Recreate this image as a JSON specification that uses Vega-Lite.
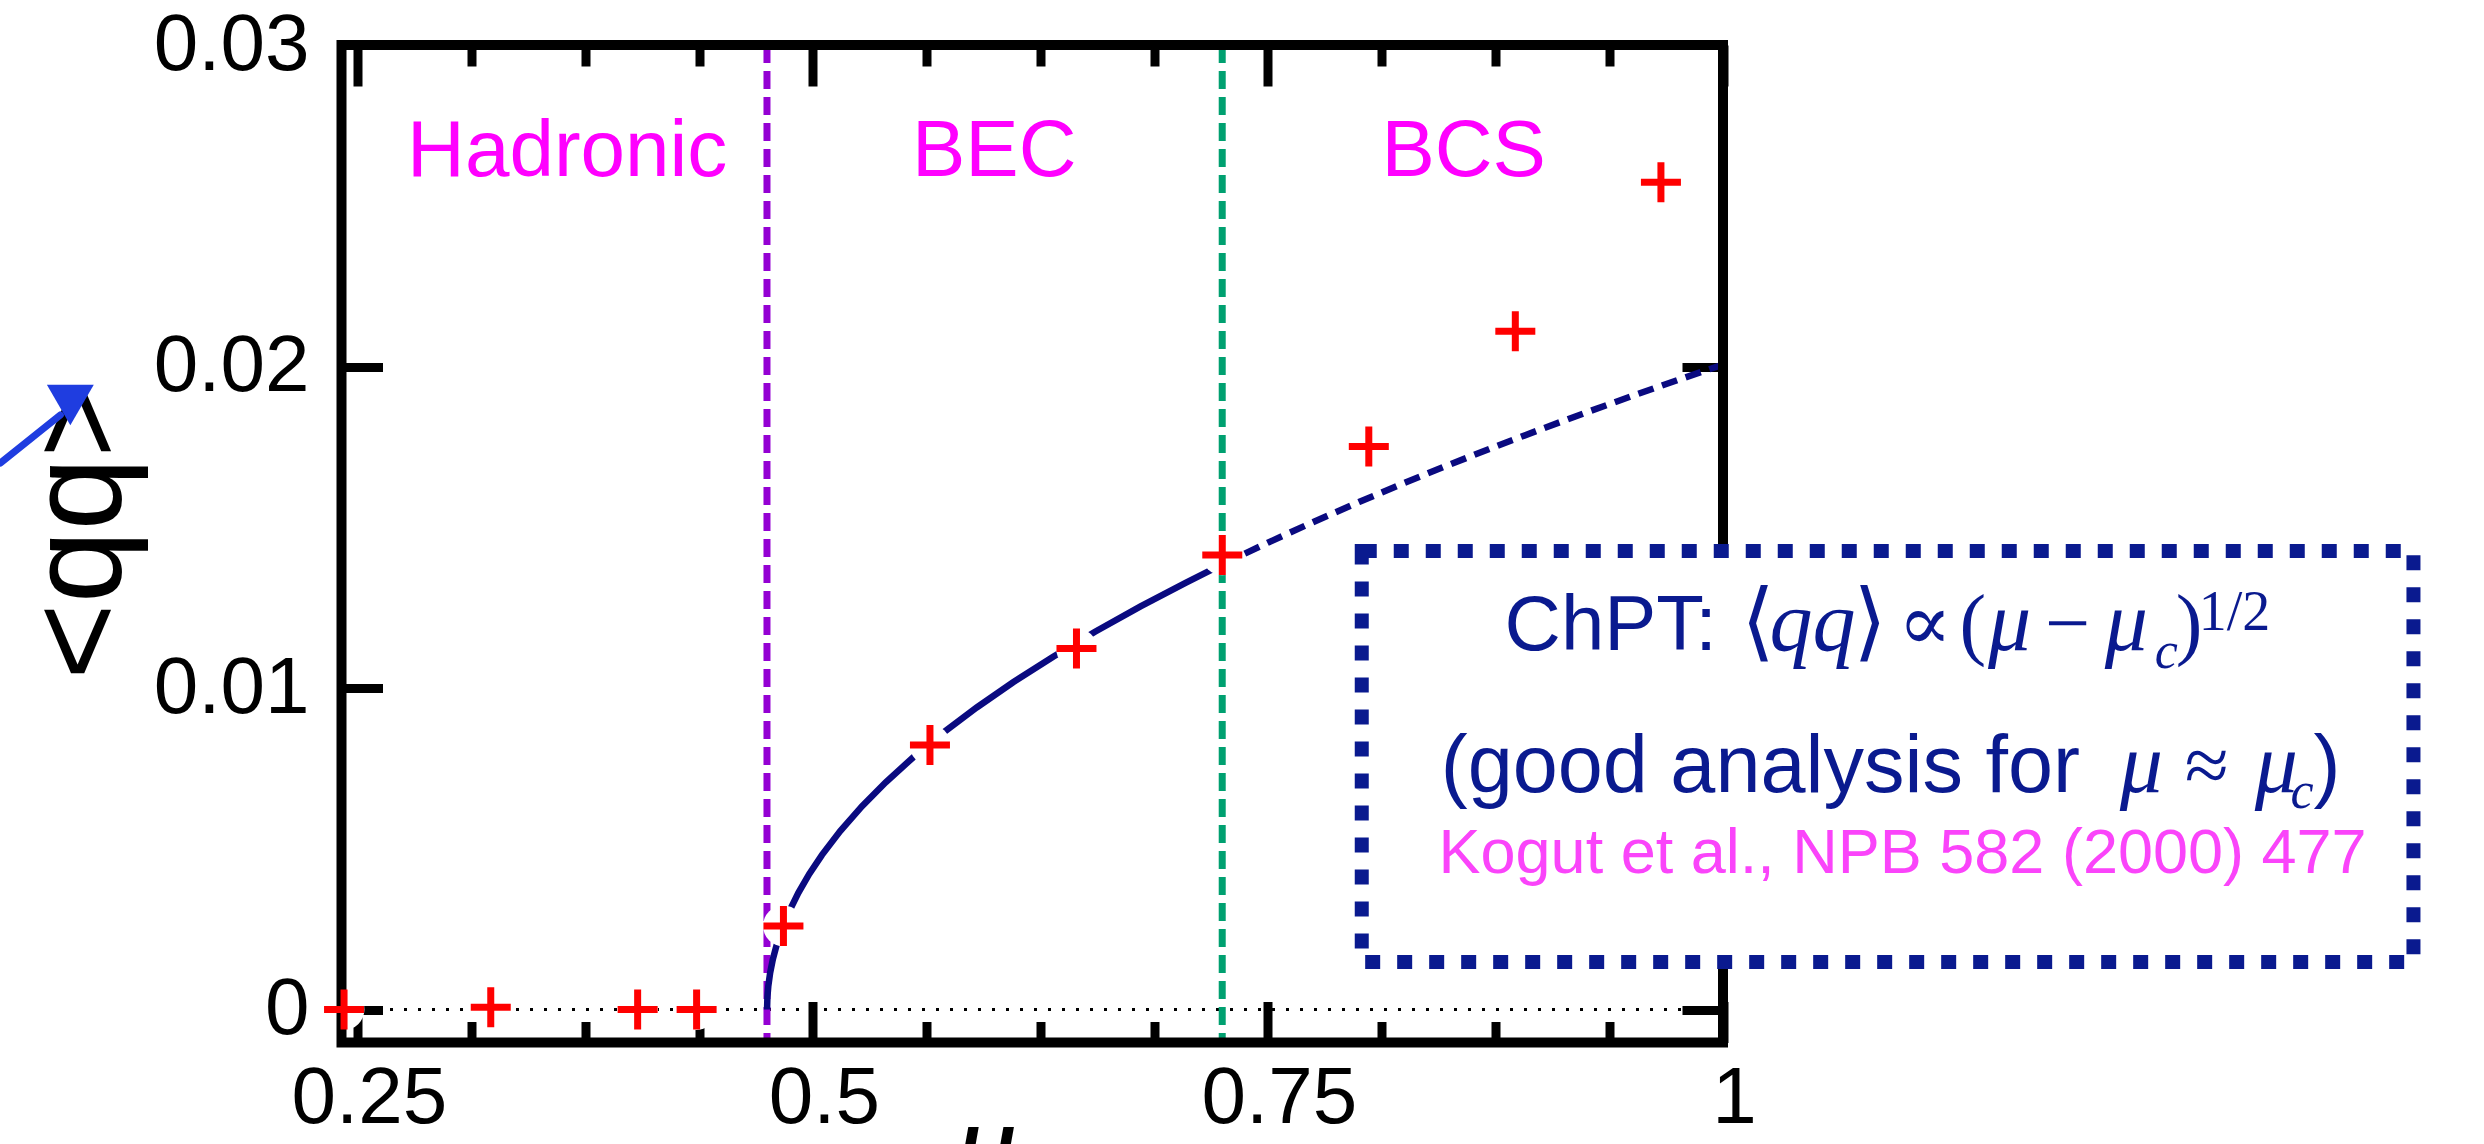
{
  "$schema": "https://vega.github.io/schema/vega-lite/v6.json",
  "width": 1381.5,
  "height": 997.5,
  "autosize": {"type": "none"},
  "padding": {"left": 341.5, "top": 45, "right": 761, "bottom": 101.5},
  "config": {
    "view": {"stroke": null},
    "axis": {
      "grid": false,
      "domain": false,
      "tickColor": "black",
      "tickWidth": 9,
      "labelFont": "Liberation Sans",
      "labelFontSize": 80,
      "labelColor": "black",
      "labelFlush": false,
      "labelOverlap": false
    }
  },
  "datasets": {
    "lattice": [
      {"mu": 0.2424, "qq": 0}, {"mu": 0.3230, "qq": 0.00007}, {"mu": 0.4037, "qq": 0},
      {"mu": 0.4361, "qq": 0}, {"mu": 0.4838, "qq": 0.00260}, {"mu": 0.5643, "qq": 0.00823},
      {"mu": 0.6448, "qq": 0.01123}, {"mu": 0.7249, "qq": 0.01414}, {"mu": 0.8054, "qq": 0.01751},
      {"mu": 0.8859, "qq": 0.02110}, {"mu": 0.9659, "qq": 0.02573}
    ]
  },
  "resolve": {"axis": {"x": "independent", "y": "independent"}},
  "layer": [
    {
      "data": {"values": [{"qq": 0}]},
      "mark": {"type": "rule", "color": "black", "strokeWidth": 3, "strokeDash": [3, 11]},
      "encoding": {
        "y": {"field": "qq", "type": "quantitative", "axis": null, "scale": {"domain": [-0.001026, 0.03], "nice": false, "zero": false}}
      }
    },
    {
      "data": {"values": [{"mu": 0.47476}]},
      "mark": {"type": "rule", "color": "#9400d3", "strokeWidth": 7, "strokeDash": [18, 8]},
      "encoding": {
        "x": {"field": "mu", "type": "quantitative", "axis": null, "scale": {"domain": [0.241, 1.0], "nice": false, "zero": false}}
      }
    },
    {
      "data": {"values": [{"mu": 0.72487}]},
      "mark": {"type": "rule", "color": "#00a070", "strokeWidth": 7, "strokeDash": [18, 8]},
      "encoding": {
        "x": {"field": "mu", "type": "quantitative", "axis": null, "scale": {"domain": [0.241, 1.0], "nice": false, "zero": false}}
      }
    },
    {
      "data": {"values": [
        {"mu": 0.4748, "qq": 0}, {"mu": 0.4750, "qq": 0.000391}, {"mu": 0.4755, "qq": 0.000732},
        {"mu": 0.4765, "qq": 0.001141}, {"mu": 0.478, "qq": 0.001566}, {"mu": 0.480, "qq": 0.001996},
        {"mu": 0.483, "qq": 0.002507}, {"mu": 0.487, "qq": 0.003057}, {"mu": 0.492, "qq": 0.003630},
        {"mu": 0.498, "qq": 0.004216}, {"mu": 0.505, "qq": 0.004810}, {"mu": 0.515, "qq": 0.005550},
        {"mu": 0.527, "qq": 0.006324}, {"mu": 0.540, "qq": 0.007068}, {"mu": 0.555, "qq": 0.007839},
        {"mu": 0.572, "qq": 0.008630}, {"mu": 0.590, "qq": 0.009395}, {"mu": 0.610, "qq": 0.010178},
        {"mu": 0.632, "qq": 0.010975}, {"mu": 0.655, "qq": 0.011750}, {"mu": 0.680, "qq": 0.012539},
        {"mu": 0.705, "qq": 0.013281}, {"mu": 0.7249, "qq": 0.013843}
      ]},
      "mark": {"type": "line", "color": "#0a0a80", "strokeWidth": 6.5},
      "encoding": {
        "x": {"field": "mu", "type": "quantitative", "scale": {"domain": [0.241, 1.0], "nice": false, "zero": false},
              "axis": {"orient": "top", "values": [0.25, 0.5, 0.75, 1.0], "labels": false, "tickSize": -41, "title": null}},
        "y": {"field": "qq", "type": "quantitative", "axis": null, "scale": {"domain": [-0.001026, 0.03], "nice": false, "zero": false}}
      }
    },
    {
      "data": {"values": [
        {"mu": 0.7249, "qq": 0.013843}, {"mu": 0.75, "qq": 0.014521}, {"mu": 0.775, "qq": 0.015166},
        {"mu": 0.80, "qq": 0.015785}, {"mu": 0.825, "qq": 0.016380}, {"mu": 0.85, "qq": 0.016955},
        {"mu": 0.875, "qq": 0.017511}, {"mu": 0.90, "qq": 0.018049}, {"mu": 0.925, "qq": 0.018572},
        {"mu": 0.95, "qq": 0.019081}, {"mu": 0.975, "qq": 0.019577}, {"mu": 1.0, "qq": 0.020060}
      ]},
      "mark": {"type": "line", "color": "#0a0a80", "strokeWidth": 6.5, "strokeDash": [16, 9]},
      "encoding": {
        "x": {"field": "mu", "type": "quantitative", "scale": {"domain": [0.241, 1.0], "nice": false, "zero": false},
              "axis": {"orient": "top", "values": [0.3125, 0.375, 0.4375, 0.5625, 0.625, 0.6875, 0.8125, 0.875, 0.9375], "labels": false, "tickSize": -21, "title": null}},
        "y": {"field": "qq", "type": "quantitative", "axis": null, "scale": {"domain": [-0.001026, 0.03], "nice": false, "zero": false}}
      }
    },
    {
      "data": {"name": "lattice"},
      "mark": {"type": "point", "shape": "circle", "filled": true, "color": "white", "opacity": 1, "size": 1662},
      "encoding": {
        "x": {"field": "mu", "type": "quantitative", "scale": {"domain": [0.241, 1.0], "nice": false, "zero": false},
              "axis": {"orient": "bottom", "values": [0.3125, 0.375, 0.4375, 0.5625, 0.625, 0.6875, 0.8125, 0.875, 0.9375], "labels": false, "tickSize": -21, "title": null}},
        "y": {"field": "qq", "type": "quantitative", "scale": {"domain": [-0.001026, 0.03], "nice": false, "zero": false},
              "axis": {"orient": "right", "values": [0, 0.01, 0.02, 0.03], "labels": false, "tickSize": -41, "title": null}}
      }
    },
    {
      "data": {"values": [{"mu": 0.241, "mu2": 1.0, "qq": -0.001026, "qq2": 0.03}]},
      "mark": {"type": "rect", "fill": "white", "fillOpacity": 0, "stroke": "black", "strokeWidth": 10},
      "encoding": {
        "x": {"field": "mu", "type": "quantitative", "axis": null, "scale": {"domain": [0.241, 1.0], "nice": false, "zero": false}},
        "x2": {"field": "mu2"},
        "y": {"field": "qq", "type": "quantitative", "axis": null, "scale": {"domain": [-0.001026, 0.03], "nice": false, "zero": false}},
        "y2": {"field": "qq2"}
      }
    },
    {
      "data": {"name": "lattice"},
      "mark": {"type": "point", "shape": "M-1,0H1M0,-1V1", "filled": false, "color": "#ff0000", "strokeWidth": 7, "opacity": 1, "size": 1600},
      "encoding": {
        "x": {"field": "mu", "type": "quantitative", "scale": {"domain": [0.241, 1.0], "nice": false, "zero": false},
              "axis": {"orient": "bottom", "values": [0.25, 0.5, 0.75, 1.0], "format": ".2~f", "tickSize": -41, "labelPadding": 57.5, "labelOffset": 11,
                       "title": "μ", "titleFont": "Liberation Serif", "titleFontStyle": "italic", "titleFontWeight": "normal", "titleFontSize": 130,
                       "titleColor": "black", "titleX": 643.5, "titleY": 142.5, "titleAlign": "center", "titleBaseline": "alphabetic"}},
        "y": {"field": "qq", "type": "quantitative", "scale": {"domain": [-0.001026, 0.03], "nice": false, "zero": false},
              "axis": {"orient": "left", "values": [0, 0.01, 0.02, 0.03], "format": ".2~f", "tickSize": -41, "labelPadding": 73.5,
                       "title": "<qq>", "titleFont": "Liberation Sans", "titleFontWeight": "normal", "titleFontSize": 131, "titleColor": "black",
                       "titleAngle": 270, "titleX": -221.5, "titleY": 485, "titleAlign": "center", "titleBaseline": "alphabetic"}}
      }
    },
    {
      "data": {"values": [
        {"mu": 0.3650, "qq": 0.02594, "phase": "Hadronic"},
        {"mu": 0.5996, "qq": 0.02594, "phase": "BEC"},
        {"mu": 0.8575, "qq": 0.02594, "phase": "BCS"}
      ]},
      "mark": {"type": "text", "font": "Liberation Sans", "fontSize": 80, "color": "#ff00ff", "align": "center", "baseline": "alphabetic"},
      "encoding": {
        "x": {"field": "mu", "type": "quantitative", "axis": null, "scale": {"domain": [0.241, 1.0], "nice": false, "zero": false}},
        "y": {"field": "qq", "type": "quantitative", "axis": null, "scale": {"domain": [-0.001026, 0.03], "nice": false, "zero": false}},
        "text": {"field": "phase"}
      }
    },
    {
      "data": {"values": [{"mu": 0.80153, "mu2": 1.37934, "qq": 0.014261, "qq2": 0.001477}]},
      "mark": {"type": "rect", "fill": "white", "stroke": "#0a1a8f", "strokeWidth": 14, "strokeDash": [15, 17]},
      "encoding": {
        "x": {"field": "mu", "type": "quantitative", "axis": null, "scale": {"domain": [0.241, 1.0], "nice": false, "zero": false}},
        "x2": {"field": "mu2"},
        "y": {"field": "qq", "type": "quantitative", "axis": null, "scale": {"domain": [-0.001026, 0.03], "nice": false, "zero": false}},
        "y2": {"field": "qq2"}
      }
    },
    {
      "data": {"values": [{"mu": 0.87999, "qq": 0.011182, "t": "ChPT:"}]},
      "mark": {"type": "text", "font": "Liberation Sans", "fontSize": 78, "color": "#0a1a8f", "align": "left", "baseline": "alphabetic"},
      "encoding": {
        "x": {"field": "mu", "type": "quantitative", "axis": null, "scale": {"domain": [0.241, 1.0], "nice": false, "zero": false}},
        "y": {"field": "qq", "type": "quantitative", "axis": null, "scale": {"domain": [-0.001026, 0.03], "nice": false, "zero": false}},
        "text": {"field": "t"}
      }
    },
    {
      "data": {"values": [
        {"mu": 0.84488, "qq": 0.006765, "t": "(good analysis for"},
        {"mu": 1.32446, "qq": 0.006765, "t": ")"}
      ]},
      "mark": {"type": "text", "font": "Liberation Sans", "fontSize": 81, "color": "#0a1a8f", "align": "left", "baseline": "alphabetic"},
      "encoding": {
        "x": {"field": "mu", "type": "quantitative", "axis": null, "scale": {"domain": [0.241, 1.0], "nice": false, "zero": false}},
        "y": {"field": "qq", "type": "quantitative", "axis": null, "scale": {"domain": [-0.001026, 0.03], "nice": false, "zero": false}},
        "text": {"field": "t"}
      }
    },
    {
      "data": {"values": [
        {"mu": 1.0255, "qq": 0.011182, "t": "qq"},
        {"mu": 1.1456, "qq": 0.011182, "t": "μ"},
        {"mu": 1.2098, "qq": 0.011182, "t": "μ"},
        {"mu": 1.21801, "qq": 0.006765, "t": "μ"},
        {"mu": 1.29209, "qq": 0.006765, "t": "μ"}
      ]},
      "mark": {"type": "text", "font": "Liberation Serif", "fontStyle": "italic", "fontSize": 86, "color": "#0a1a8f", "align": "left", "baseline": "alphabetic"},
      "encoding": {
        "x": {"field": "mu", "type": "quantitative", "axis": null, "scale": {"domain": [0.241, 1.0], "nice": false, "zero": false}},
        "y": {"field": "qq", "type": "quantitative", "axis": null, "scale": {"domain": [-0.001026, 0.03], "nice": false, "zero": false}},
        "text": {"field": "t"}
      }
    },
    {
      "data": {"values": [
        {"mu": 1.0100, "qq": 0.011182, "t": "⟨"},
        {"mu": 1.0715, "qq": 0.011182, "t": "⟩"}
      ]},
      "mark": {"type": "text", "font": "DejaVu Serif", "fontSize": 86, "color": "#0a1a8f", "align": "left", "baseline": "alphabetic"},
      "encoding": {
        "x": {"field": "mu", "type": "quantitative", "axis": null, "scale": {"domain": [0.241, 1.0], "nice": false, "zero": false}},
        "y": {"field": "qq", "type": "quantitative", "axis": null, "scale": {"domain": [-0.001026, 0.03], "nice": false, "zero": false}},
        "text": {"field": "t"}
      }
    },
    {
      "data": {"values": [
        {"mu": 1.0960, "qq": 0.011182, "t": "∝"},
        {"mu": 1.1300, "qq": 0.011182, "t": "("},
        {"mu": 1.1769, "qq": 0.011182, "t": "−"},
        {"mu": 1.24874, "qq": 0.011182, "t": ")"},
        {"mu": 1.25368, "qq": 0.006765, "t": "≈"}
      ]},
      "mark": {"type": "text", "font": "'Liberation Serif', 'DejaVu Serif', serif", "fontSize": 80, "color": "#0a1a8f", "align": "left", "baseline": "alphabetic"},
      "encoding": {
        "x": {"field": "mu", "type": "quantitative", "axis": null, "scale": {"domain": [0.241, 1.0], "nice": false, "zero": false}},
        "y": {"field": "qq", "type": "quantitative", "axis": null, "scale": {"domain": [-0.001026, 0.03], "nice": false, "zero": false}},
        "text": {"field": "t"}
      }
    },
    {
      "data": {"values": [
        {"mu": 1.23721, "qq": 0.010622, "t": "c"},
        {"mu": 1.31184, "qq": 0.006267, "t": "c"}
      ]},
      "mark": {"type": "text", "font": "Liberation Serif", "fontStyle": "italic", "fontSize": 52, "color": "#0a1a8f", "align": "left", "baseline": "alphabetic"},
      "encoding": {
        "x": {"field": "mu", "type": "quantitative", "axis": null, "scale": {"domain": [0.241, 1.0], "nice": false, "zero": false}},
        "y": {"field": "qq", "type": "quantitative", "axis": null, "scale": {"domain": [-0.001026, 0.03], "nice": false, "zero": false}},
        "text": {"field": "t"}
      }
    },
    {
      "data": {"values": [{"mu": 1.26136, "qq": 0.011804, "t": "1/2"}]},
      "mark": {"type": "text", "font": "Liberation Serif", "fontSize": 56, "color": "#0a1a8f", "align": "left", "baseline": "alphabetic"},
      "encoding": {
        "x": {"field": "mu", "type": "quantitative", "axis": null, "scale": {"domain": [0.241, 1.0], "nice": false, "zero": false}},
        "y": {"field": "qq", "type": "quantitative", "axis": null, "scale": {"domain": [-0.001026, 0.03], "nice": false, "zero": false}},
        "text": {"field": "t"}
      }
    },
    {
      "data": {"values": [{"mu": 1.09866, "qq": 0.004246, "t": "Kogut et al., NPB 582 (2000) 477"}]},
      "mark": {"type": "text", "font": "Liberation Sans", "fontSize": 63, "color": "#fa44fa", "align": "center", "baseline": "alphabetic"},
      "encoding": {
        "x": {"field": "mu", "type": "quantitative", "axis": null, "scale": {"domain": [0.241, 1.0], "nice": false, "zero": false}},
        "y": {"field": "qq", "type": "quantitative", "axis": null, "scale": {"domain": [-0.001026, 0.03], "nice": false, "zero": false}},
        "text": {"field": "t"}
      }
    },
    {
      "data": {"values": [{"mu": 0.05361, "qq": 0.016998}, {"mu": 0.08653, "qq": 0.018491}]},
      "mark": {"type": "line", "color": "#1f3de0", "strokeWidth": 7, "strokeCap": "round"},
      "encoding": {
        "x": {"field": "mu", "type": "quantitative", "axis": null, "scale": {"domain": [0.241, 1.0], "nice": false, "zero": false}},
        "y": {"field": "qq", "type": "quantitative", "axis": null, "scale": {"domain": [-0.001026, 0.03], "nice": false, "zero": false}}
      }
    },
    {
      "data": {"values": [{"mu": 0.09202, "qq": 0.018802}]},
      "mark": {"type": "point", "shape": "triangle-down", "filled": true, "color": "#1f3de0", "opacity": 1, "size": 2200},
      "encoding": {
        "x": {"field": "mu", "type": "quantitative", "axis": null, "scale": {"domain": [0.241, 1.0], "nice": false, "zero": false}},
        "y": {"field": "qq", "type": "quantitative", "axis": null, "scale": {"domain": [-0.001026, 0.03], "nice": false, "zero": false}}
      }
    }
  ]
}
